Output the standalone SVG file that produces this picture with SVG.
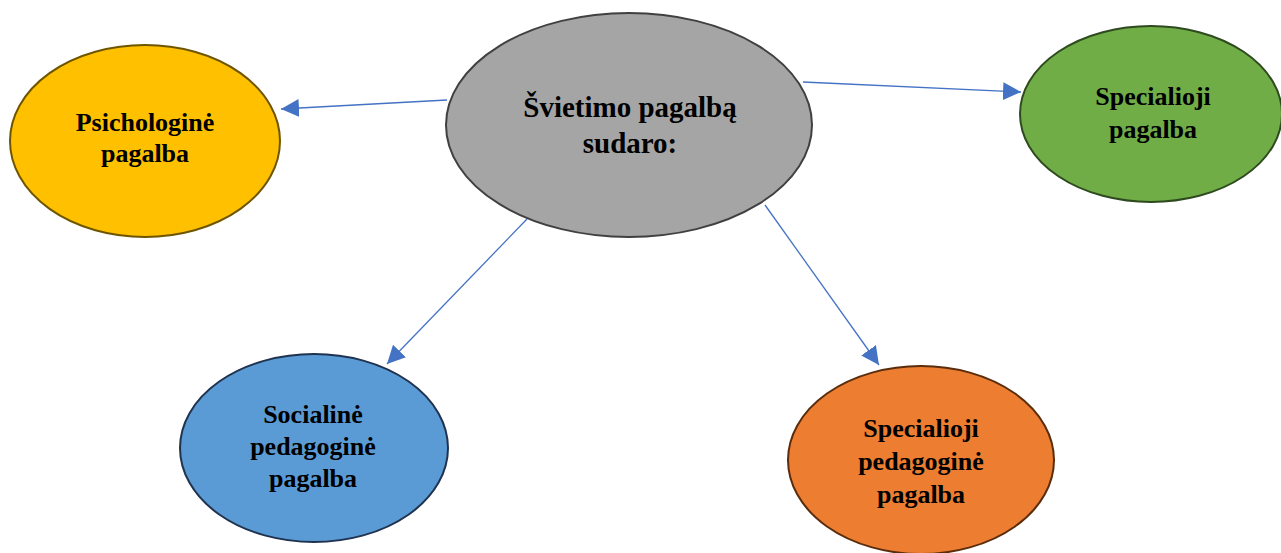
<svg xmlns="http://www.w3.org/2000/svg" width="1281" height="553" viewBox="0 0 1281 553">
  <style>
    .lbl { font-family: "Liberation Serif", "Times New Roman", serif; font-weight: bold; fill: #000; text-anchor: middle; }
    .conn { stroke: #4472C4; stroke-width: 1.3; fill: none; marker-end: url(#arrow); }
    .node ellipse { stroke-width: 2; }
  </style>
  <defs>
    <marker id="arrow" markerUnits="userSpaceOnUse" markerWidth="18" markerHeight="18" viewBox="0 0 16 16" refX="16" refY="8" orient="auto">
      <path d="M0,0 L16,8 L0,16 Z" fill="#4472C4"/>
    </marker>
  </defs>
  <rect width="1281" height="553" fill="#ffffff"/>
  <g id="connectors">
    <line class="conn" x1="447" y1="100" x2="281" y2="109"/>
    <line class="conn" x1="803" y1="82" x2="1021" y2="92"/>
    <line class="conn" x1="527" y1="219" x2="387" y2="364"/>
    <line class="conn" x1="765" y1="205" x2="879" y2="365"/>
  </g>
  <g id="node-center" class="node">
    <ellipse cx="629" cy="125" rx="183" ry="112" fill="#A5A5A5" stroke="#404040"/>
    <text class="lbl" x="630" y="117" font-size="29">Švietimo pagalbą</text>
    <text class="lbl" x="630" y="153" font-size="29">sudaro:</text>
  </g>
  <g id="node-psichologine" class="node">
    <ellipse cx="145" cy="141" rx="135" ry="96" fill="#FFC000" stroke="#6E5500"/>
    <text class="lbl" x="145" y="131" font-size="26">Psichologinė</text>
    <text class="lbl" x="145" y="162" font-size="26">pagalba</text>
  </g>
  <g id="node-specialioji" class="node">
    <ellipse cx="1151" cy="114" rx="131" ry="88" fill="#70AD47" stroke="#2E4A1E"/>
    <text class="lbl" x="1153" y="105" font-size="26">Specialioji</text>
    <text class="lbl" x="1153" y="138" font-size="26">pagalba</text>
  </g>
  <g id="node-socialine" class="node">
    <ellipse cx="314" cy="448" rx="134" ry="94" fill="#5B9BD5" stroke="#1F3350"/>
    <text class="lbl" x="313" y="423" font-size="26">Socialinė</text>
    <text class="lbl" x="313" y="455" font-size="26">pedagoginė</text>
    <text class="lbl" x="313" y="487" font-size="26">pagalba</text>
  </g>
  <g id="node-specped" class="node">
    <ellipse cx="921" cy="460" rx="133" ry="94" fill="#ED7D31" stroke="#5A2D0C"/>
    <text class="lbl" x="921" y="437" font-size="26">Specialioji</text>
    <text class="lbl" x="921" y="470" font-size="26">pedagoginė</text>
    <text class="lbl" x="921" y="503" font-size="26">pagalba</text>
  </g>
</svg>
